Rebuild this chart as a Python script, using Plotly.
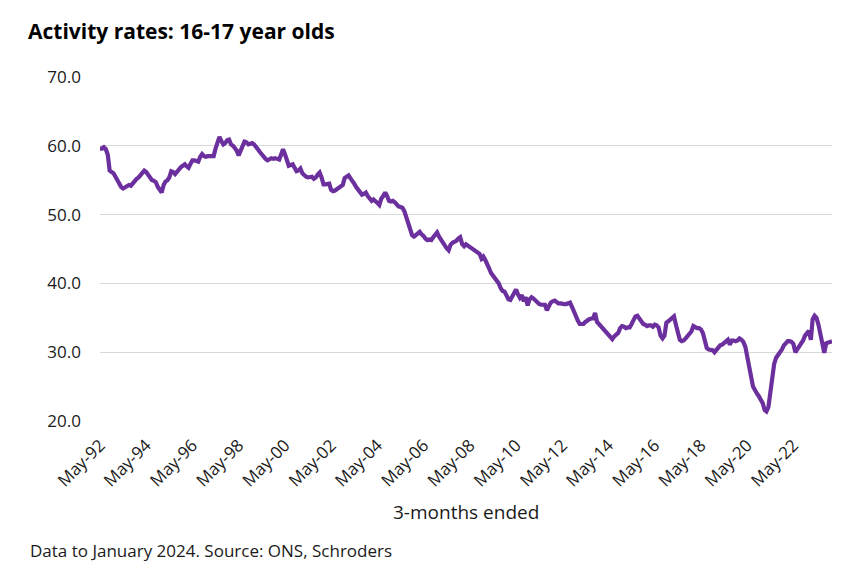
import pandas as pd
import plotly.graph_objects as go

start_month = "1992-05-01"
end_month = "2024-01-01"

seg_1992_1997 = [59.6, 59.6, 59.8, 59.5, 58.7, 56.4, 56.2, 56.0, 55.5, 55.0,
                 54.4, 54.0, 53.8, 54.0, 54.2, 54.3, 54.2, 54.6, 55.0, 55.2,
                 55.4, 55.7, 56.0, 56.4, 56.2, 55.8, 55.3, 55.0, 54.9, 54.7,
                 54.0, 53.5, 53.2, 54.3, 54.8, 55.0, 55.4, 56.3, 56.2, 55.9,
                 56.3, 56.7, 56.9, 57.1, 57.3, 57.0, 56.8, 57.4, 57.9, 57.9,
                 57.8, 57.7, 58.4, 58.8, 58.5, 58.4, 58.5, 58.5, 58.4, 58.5,
                 59.6, 60.6, 61.3]
seg_1997_2002 = [60.7, 60.2, 60.4, 60.8, 60.9, 60.2, 60.0,
                 59.7, 59.3, 58.6, 59.3, 60.0, 60.6, 60.5, 60.2, 60.3, 60.4,
                 60.2, 59.9, 59.5, 59.1, 58.7, 58.4, 58.1, 57.9, 58.0, 58.2,
                 58.1, 58.2, 58.1, 58.0, 58.7, 59.5, 58.8, 58.0, 57.1, 57.2,
                 57.3, 56.8, 56.3, 56.4, 56.7, 56.0, 55.7, 55.5, 55.4, 55.5,
                 55.5, 55.2, 55.4, 55.8, 56.1, 55.4, 54.4, 54.4, 54.5, 54.5,
                 53.6, 53.4, 53.5, 53.7, 54.0]
seg_2002_2008 = [54.1, 54.3, 55.3, 55.6, 55.7,
                 55.3, 55.0, 54.5, 54.0, 53.7, 53.4, 52.9, 53.0, 53.2, 52.7,
                 52.3, 52.0, 52.2, 52.0, 51.7, 51.4, 52.3, 52.7, 53.2, 52.7,
                 52.0, 51.9, 52.0, 51.8, 51.4, 51.2, 51.1, 51.0, 50.5, 49.7,
                 48.9, 48.1, 47.0, 46.8, 47.0, 47.2, 47.5, 47.1, 46.9, 46.5,
                 46.3, 46.4, 46.3, 46.7, 47.2, 47.4, 46.8, 46.3, 45.9, 45.5,
                 45.1, 44.8, 45.6, 45.9, 46.0, 46.2, 46.5, 46.7, 45.7, 45.4,
                 45.7]
seg_2008_2014 = [45.5, 45.2, 45.0, 44.9, 44.7, 44.5, 44.3, 43.6, 43.9,
                 43.4, 42.9, 42.2, 41.5, 41.1, 40.9, 40.5, 40.0, 39.3, 38.9,
                 38.8, 38.3, 37.7, 37.6, 38.0, 38.7, 39.1, 38.4, 37.9, 38.3,
                 37.4, 38.0, 36.8, 37.7, 38.0, 37.8, 37.5, 37.2, 37.0, 36.9,
                 36.9, 36.9, 36.1, 36.8, 37.2, 37.4, 37.5, 37.3, 37.1, 37.1,
                 37.0, 37.0, 37.0, 37.1, 37.2, 36.6, 35.8, 35.1, 34.6, 34.1,
                 34.1, 34.1, 34.4, 34.7, 34.8, 34.9, 34.9, 35.7, 34.4, 34.1,
                 33.8]
seg_2014_2018 = [33.3, 33.2, 32.9, 32.5, 32.2, 31.9, 32.3, 32.6, 32.8,
                 33.5, 33.8, 33.7, 33.5, 33.6, 33.6, 34.1, 34.6, 35.2, 35.3,
                 34.9, 34.5, 34.1, 34.0, 33.8, 33.9, 33.9, 33.7, 34.0, 33.9,
                 33.6, 32.4, 32.0, 32.4, 34.3, 34.5, 34.7, 35.0, 35.2, 34.0,
                 32.8, 31.8, 31.6, 31.7, 32.0, 32.3, 32.6, 33.0, 33.8, 33.6,
                 33.5]
seg_2018_2024 = [33.5, 33.3, 32.8, 31.8, 30.6, 30.4, 30.3, 30.3, 30.0,
                 30.4, 30.8, 31.0, 31.1, 31.3, 31.5, 31.8, 31.1, 31.7, 31.7,
                 31.6, 31.7, 32.0, 31.8, 31.5, 30.8, 29.6, 28.0, 26.5, 25.0,
                 24.4, 24.0, 23.6, 23.1, 22.6, 21.6, 21.4, 22.0, 24.4, 26.6,
                 28.3, 29.2, 29.6, 29.8, 30.4, 31.0, 31.4, 31.6, 31.6, 31.5,
                 31.2, 30.0, 30.4, 30.8, 31.2, 31.7, 32.4, 32.9, 33.1, 31.8,
                 34.8, 35.3, 35.0, 34.0, 32.6, 30.9, 29.9, 31.3, 31.4, 31.5,
                 31.6]

activity_rate = (seg_1992_1997 + seg_1997_2002 + seg_2002_2008 +
                 seg_2008_2014 + seg_2014_2018 + seg_2018_2024)
months = pd.date_range(start_month, end_month, freq="MS")
assert len(months) == len(activity_rate)

y_ticks = [20, 30, 40, 50, 60, 70]

FONT = "Open Sans"
PURPLE = "#6c2f9e"
TEXT = "#1a1a1a"

fig = go.Figure()
fig.add_trace(go.Scatter(
    x=months, y=activity_rate, mode="lines",
    line=dict(color=PURPLE, width=4.2), hoverinfo="x+y", showlegend=False,
))

fig.update_layout(
    width=856, height=578,
    margin=dict(l=92, r=32, t=69, b=165),
    paper_bgcolor="white", plot_bgcolor="white",
    font=dict(family=FONT, color=TEXT, size=17),
    title=dict(text="<b>Activity rates: 16-17 year olds</b>",
               x=20 / 856, xanchor="left", xref="container",
               y=1 - 24 / 578, yanchor="middle", yref="container",
               font=dict(family=FONT, size=21, color="#000000")),
    xaxis=dict(
        type="date", range=[months[0], months[-1]],
        tick0=start_month, dtick="M24", tickformat="%b-%y",
        tickangle=-45, showgrid=False, zeroline=False, showline=False,
        ticks="", ticklabelstandoff=10,
        tickfont=dict(family=FONT, size=17, color=TEXT),
    ),
    yaxis=dict(
        range=[20, 70], tickvals=y_ticks, tickformat=".1f",
        showgrid=True, gridcolor="#d9d9d9", gridwidth=1,
        zeroline=False, showline=False, ticks="", ticklabelstandoff=18,
        tickfont=dict(family=FONT, size=17, color=TEXT),
    ),
    annotations=[
        dict(text="3-months ended", x=0.5, y=(413 - 504) / 344,
             xref="paper", yref="paper", xanchor="center", yanchor="middle",
             showarrow=False, font=dict(family=FONT, size=19, color=TEXT)),
        dict(text="Data to January 2024. Source: ONS, Schroders",
             x=(20 - 92) / 732, y=(413 - 542) / 344,
             xref="paper", yref="paper", xanchor="left", yanchor="middle",
             showarrow=False, font=dict(family=FONT, size=17, color=TEXT)),
    ],
)

fig.write_html("out.html")
